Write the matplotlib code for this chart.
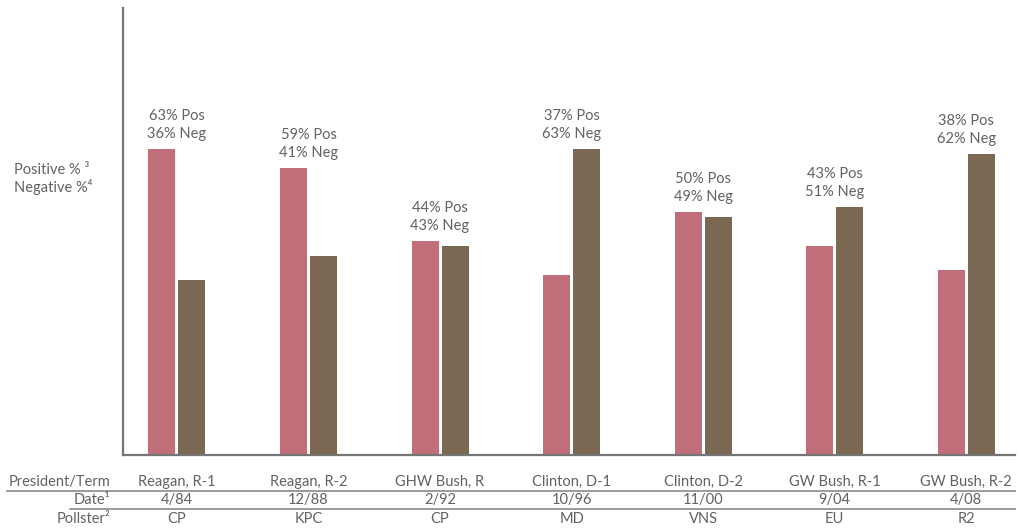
import matplotlib.pyplot as plt
from matplotlib.lines import Line2D
from matplotlib.transforms import blended_transform_factory

plt.rcParams['font.family'] = ['Lato', 'DejaVu Sans']

# Presidential approval polls, positive vs negative
terms = ["Reagan, R-1", "Reagan, R-2", "GHW Bush, R", "Clinton, D-1",
         "Clinton, D-2", "GW Bush, R-1", "GW Bush, R-2"]
dates = ["4/84", "12/88", "2/92", "10/96", "11/00", "9/04", "4/08"]
pollsters = ["CP", "KPC", "CP", "MD", "VNS", "EU", "R2"]
positive = [63, 59, 44, 37, 50, 43, 38]
negative = [36, 41, 43, 63, 49, 51, 62]

POS_COLOR = "#c06e7a"
NEG_COLOR = "#7b6852"
TEXT_COLOR = "#626262"
LINE_COLOR = "#8a8a8a"

fig = plt.figure(figsize=(10.21, 5.29), dpi=100)
ax = fig.add_axes([0.1205, 0.140, 0.8735, 0.845])

x = list(range(len(terms)))
w = 0.205
off = 0.114
ax.bar([i - off for i in x], positive, width=w, color=POS_COLOR)
ax.bar([i + off for i in x], negative, width=w, color=NEG_COLOR)

for i, (p, n) in enumerate(zip(positive, negative)):
    top = max(p, n)
    ax.text(i, top + 1.6, f"{p}% Pos\n{n}% Neg", ha="center", va="bottom",
            fontsize=10.5, color=TEXT_COLOR, linespacing=1.4)

ax.set_xlim(-0.41, 6.37)
ax.set_ylim(0, 92)
ax.set_xticks([])
ax.set_yticks([])
for s in ["top", "right"]:
    ax.spines[s].set_visible(False)
for s in ["left", "bottom"]:
    ax.spines[s].set_color("#757575")
    ax.spines[s].set_linewidth(1.6)

# y-axis caption with footnote marks
fig.text(0.0137, 1 - 170 / 529, "Positive % \u00b3", fontsize=10.5, color=TEXT_COLOR, va="center")
fig.text(0.0137, 1 - 187 / 529, "Negative %\u2074", fontsize=10.5, color=TEXT_COLOR, va="center")

# table beneath the chart
tr = blended_transform_factory(ax.transData, fig.transFigure)
rows = [(terms, 482), (dates, 500), (pollsters, 519)]
for labels, ypix in rows:
    for i, lab in enumerate(labels):
        fig.text(i, 1 - ypix / 529, lab, transform=tr, ha="center", va="center",
                 fontsize=10.5, color=TEXT_COLOR)

hx = 110 / 1021
fig.text(hx, 1 - 482 / 529, "President/Term", ha="right", va="center",
         fontsize=10.5, color=TEXT_COLOR)
fig.text(hx, 1 - 500 / 529, "Date\u00b9", ha="right", va="center",
         fontsize=10.5, color=TEXT_COLOR)
fig.text(hx, 1 - 519 / 529, "Pollster\u00b2", ha="right", va="center",
         fontsize=10.5, color=TEXT_COLOR)

for x0, ypix in [(7, 491), (70, 509)]:
    fig.add_artist(Line2D([x0 / 1021, 1015 / 1021], [1 - ypix / 529] * 2,
                          color=LINE_COLOR, lw=1.2, transform=fig.transFigure))

fig.savefig("out.png", dpi=100)
